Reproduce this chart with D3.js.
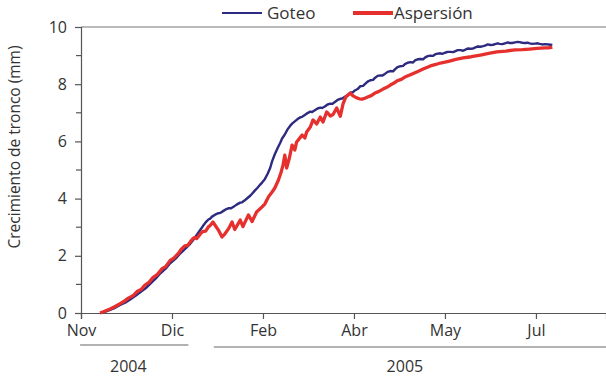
<!DOCTYPE html>
<html>
<head>
<meta charset="utf-8">
<script src="https://cdn.jsdelivr.net/npm/d3@7"></script>
<style>
  html, body { margin: 0; padding: 0; background: #fff; }
  svg { display: block; }
  text { font-family: "Open Sans", "DejaVu Sans", sans-serif; fill: #333; }
</style>
</head>
<body>
<svg id="chart" width="606" height="377"></svg>
<script>
// Month tick positions along the time axis and their labels
const tickPos = [0, 1, 2, 3, 4, 5];
const tickLabels = ["Nov", "Dic", "Feb", "Abr", "May", "Jul"];
const yTicks = [0, 2, 4, 6, 8, 10];
const yMinorTicks = [1, 3, 5, 7, 9];

// Year brackets below the axis: [start, end, label position]
const years = ["2004", "2005"];
const yearSpans = [[-0.01, 1.18, 0.52], [1.46, 5.77, 3.56]];

// Goteo (drip irrigation): position, trunk growth in mm
const goteoPos = [0.21,0.27,0.32,0.38,0.43,0.49,0.54,0.60,0.65,0.71,0.76,0.82,0.87,0.93,0.98,1.04,1.09,1.15,1.20,1.24,1.27,1.31,1.34,1.37,1.40,1.42,1.44,1.47,1.50,1.53,1.57,1.59,1.62,1.65,1.68,1.71,1.75,1.77,1.80,1.83,1.86,1.88,1.91,1.94,1.97,1.99,2.02,2.05,2.08,2.10,2.13,2.16,2.19,2.21,2.24,2.27,2.30,2.32,2.35,2.38,2.41,2.43,2.46,2.49,2.52,2.54,2.57,2.60,2.63,2.65,2.68,2.71,2.74,2.76,2.79,2.82,2.85,2.87,2.90,2.93,2.96,2.99,3.01,3.04,3.07,3.10,3.12,3.15,3.18,3.21,3.23,3.26,3.29,3.31,3.34,3.37,3.40,3.43,3.45,3.48,3.51,3.54,3.56,3.59,3.62,3.65,3.67,3.70,3.73,3.76,3.78,3.81,3.84,3.87,3.89,3.92,3.95,3.97,4.00,4.03,4.06,4.09,4.11,4.14,4.17,4.20,4.22,4.25,4.28,4.31,4.33,4.36,4.39,4.42,4.44,4.47,4.50,4.53,4.55,4.58,4.60,4.63,4.66,4.69,4.71,4.74,4.77,4.80,4.82,4.85,4.88,4.91,4.93,4.96,4.99,5.02,5.04,5.07,5.10,5.14,5.18];
const goteoVal = [0,0.05,0.11,0.19,0.28,0.37,0.47,0.60,0.72,0.86,1.02,1.20,1.38,1.55,1.74,1.90,2.08,2.26,2.42,2.58,2.72,2.90,3.04,3.17,3.27,3.30,3.37,3.43,3.48,3.50,3.58,3.62,3.66,3.66,3.72,3.79,3.86,3.87,3.94,4.02,4.10,4.17,4.28,4.38,4.49,4.56,4.68,4.86,5.08,5.30,5.55,5.76,5.95,6.10,6.24,6.42,6.55,6.62,6.70,6.78,6.84,6.86,6.92,6.99,7.04,7.03,7.09,7.15,7.18,7.17,7.22,7.29,7.32,7.31,7.38,7.45,7.49,7.50,7.56,7.61,7.70,7.72,7.78,7.83,7.93,7.94,8.00,8.09,8.14,8.15,8.22,8.29,8.31,8.30,8.36,8.43,8.46,8.45,8.52,8.60,8.63,8.64,8.70,8.75,8.77,8.76,8.83,8.87,8.88,8.87,8.93,8.98,9.00,8.99,9.04,9.07,9.08,9.06,9.10,9.13,9.13,9.12,9.15,9.19,9.19,9.17,9.20,9.25,9.24,9.25,9.28,9.32,9.31,9.33,9.35,9.39,9.37,9.38,9.40,9.43,9.41,9.40,9.43,9.46,9.44,9.44,9.46,9.48,9.47,9.45,9.44,9.45,9.43,9.41,9.42,9.43,9.41,9.39,9.40,9.39,9.37];

// Aspersión (sprinkler irrigation): position, trunk growth in mm
const aspersionPos = [0.21,0.26,0.32,0.37,0.43,0.47,0.52,0.57,0.62,0.66,0.70,0.75,0.79,0.84,0.89,0.93,0.98,1.02,1.07,1.10,1.14,1.17,1.20,1.23,1.25,1.27,1.29,1.32,1.34,1.37,1.40,1.42,1.45,1.51,1.55,1.58,1.62,1.66,1.69,1.75,1.78,1.84,1.88,1.93,1.99,2.02,2.06,2.10,2.13,2.17,2.20,2.22,2.24,2.26,2.29,2.32,2.35,2.37,2.43,2.46,2.48,2.52,2.55,2.59,2.63,2.66,2.70,2.74,2.77,2.81,2.85,2.88,2.91,2.96,2.99,3.03,3.06,3.09,3.12,3.15,3.19,3.23,3.27,3.32,3.36,3.40,3.44,3.47,3.52,3.56,3.62,3.69,3.76,3.84,3.90,3.95,4.00,4.05,4.12,4.20,4.29,4.39,4.48,4.57,4.67,4.77,4.85,4.93,5.01,5.10,5.14,5.18];
const aspersionVal = [0,0.06,0.14,0.22,0.33,0.40,0.52,0.60,0.76,0.82,0.97,1.08,1.24,1.35,1.55,1.62,1.84,1.92,2.08,2.22,2.35,2.36,2.48,2.60,2.64,2.60,2.68,2.80,2.85,2.86,3.01,3.06,3.18,2.90,2.66,2.76,2.94,3.18,2.92,3.25,3.02,3.43,3.20,3.53,3.71,3.81,4.06,4.23,4.37,4.65,4.93,5.17,5.52,5.07,5.42,5.87,5.70,5.98,6.22,6.12,6.33,6.50,6.75,6.61,6.85,6.68,7.03,6.89,6.94,7.17,6.88,7.31,7.55,7.69,7.59,7.52,7.49,7.48,7.51,7.55,7.60,7.69,7.74,7.83,7.89,7.97,8.04,8.11,8.17,8.25,8.33,8.43,8.53,8.64,8.69,8.74,8.77,8.81,8.87,8.92,8.96,9.02,9.08,9.13,9.16,9.20,9.21,9.23,9.25,9.27,9.27,9.30];

const svg = d3.select("#chart");
const plotLeft = 81, plotRight = 606, plotTop = 27, plotBottom = 313;

const x = d3.scaleLinear().domain([0, 5.77]).range([plotLeft, plotRight]);
const y = d3.scaleLinear().domain([0, 10]).range([plotBottom, plotTop]);

const axisColor = "#555";

// Top frame line
svg.append("line")
  .attr("x1", plotLeft).attr("x2", plotRight)
  .attr("y1", y(10)).attr("y2", y(10))
  .attr("stroke", "#777").attr("stroke-width", 1.2);

// Y axis
const yAxis = svg.append("g")
  .attr("transform", `translate(${plotLeft},0)`)
  .call(d3.axisLeft(y).tickValues(yTicks).tickSize(6).tickPadding(8).tickFormat(d3.format("d")));
yAxis.select(".domain").attr("stroke", axisColor).attr("stroke-width", 1.2);
yAxis.selectAll(".tick line").attr("stroke", axisColor).attr("stroke-width", 1.2);
yAxis.selectAll(".tick text").attr("font-size", 16).attr("fill", "#333")
  .style("font-family", "'Open Sans', sans-serif");

// Minor ticks on odd values
svg.append("g").selectAll("line").data(yMinorTicks).join("line")
  .attr("x1", plotLeft - 5).attr("x2", plotLeft)
  .attr("y1", d => y(d)).attr("y2", d => y(d))
  .attr("stroke", axisColor).attr("stroke-width", 1.2);

// X axis
const xAxis = svg.append("g")
  .attr("transform", `translate(0,${plotBottom})`)
  .call(d3.axisBottom(x).tickValues(tickPos).tickSize(6).tickPadding(6)
    .tickFormat((d, i) => tickLabels[i]));
xAxis.select(".domain").attr("stroke", axisColor).attr("stroke-width", 1.2);
xAxis.selectAll(".tick line").attr("stroke", axisColor).attr("stroke-width", 1.2);
xAxis.selectAll(".tick text").attr("font-size", 16).attr("fill", "#333")
  .style("font-family", "'Open Sans', sans-serif");

// Year brackets
const yearG = svg.append("g");
yearSpans.forEach((s, i) => {
  const ly = i === 0 ? 345 : 347;
  yearG.append("line")
    .attr("x1", x(s[0])).attr("x2", x(s[1]))
    .attr("y1", ly).attr("y2", ly)
    .attr("stroke", "#666").attr("stroke-width", 1.2);
  yearG.append("text")
    .attr("x", x(s[2])).attr("y", 372)
    .attr("text-anchor", "middle")
    .attr("font-size", 16)
    .text(years[i]);
});

// Y axis title
svg.append("text")
  .attr("transform", `translate(20,147) rotate(-90)`)
  .attr("text-anchor", "middle")
  .attr("font-size", 15.5)
  .text("Crecimiento de tronco (mm)");

// Series lines
const line = d3.line().x(d => x(d[0])).y(d => y(d[1]));
const goteo = goteoPos.map((p, i) => [p, goteoVal[i]]);
const aspersion = aspersionPos.map((p, i) => [p, aspersionVal[i]]);

svg.append("path").datum(goteo)
  .attr("d", line)
  .attr("fill", "none")
  .attr("stroke", "#2d2a80")
  .attr("stroke-width", 2.4)
  .attr("stroke-linejoin", "round");

svg.append("path").datum(aspersion)
  .attr("d", line)
  .attr("fill", "none")
  .attr("stroke", "#e5302e")
  .attr("stroke-width", 3.3)
  .attr("stroke-linejoin", "round");

// Legend
const legend = [
  { name: "Goteo", color: "#2d2a80", width: 2, x0: 222, tx: 267 },
  { name: "Aspersión", color: "#e5302e", width: 4, x0: 353, tx: 394 }
];
const lg = svg.append("g");
legend.forEach(l => {
  lg.append("line")
    .attr("x1", l.x0).attr("x2", l.x0 + 40)
    .attr("y1", 13).attr("y2", 13)
    .attr("stroke", l.color).attr("stroke-width", l.width);
  lg.append("text")
    .attr("x", l.tx).attr("y", 19)
    .attr("font-size", 17)
    .text(l.name);
});
</script>
</body>
</html>
